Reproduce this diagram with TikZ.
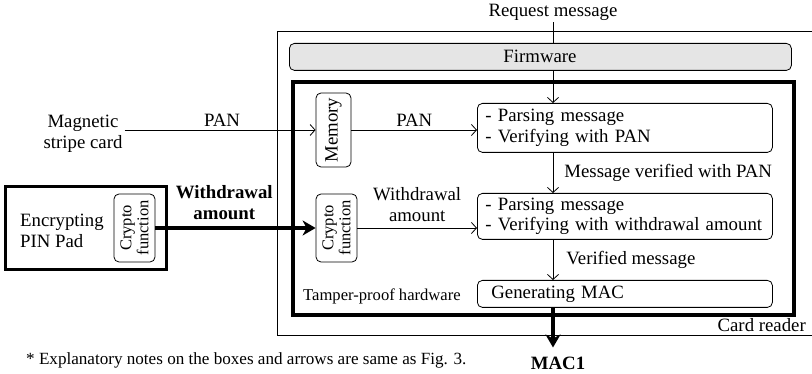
\documentclass[tikz,border=0pt]{standalone}
\usepackage{fontspec}
\setmainfont{Liberation Serif}
\usetikzlibrary{arrows.meta}
\begin{document}
\begin{tikzpicture}[x=1pt,y=-1pt,
  every node/.style={font=\fontsize{18.8}{20.5}\selectfont, inner sep=2pt},
  rbox/.style={draw, rounded corners=5pt, line width=0.8pt},
  stepbox/.style={rbox, anchor=north west, align=left, inner xsep=8pt, text width=279pt},
  crypto/.style={rbox, rotate=90, align=center, minimum width=68pt, minimum height=41pt,
                 inner sep=0pt, font=\fontsize{16.5}{16.8}\selectfont},
  flow/.style={line width=0.8pt, -{Straight Barb[length=5pt,width=11pt]}},
  bigflow/.style={line width=3.2pt, -{Stealth[length=13pt,width=15pt,inset=4pt]}},
  small/.style={font=\fontsize{17.1}{18}\selectfont}
]
\path[use as bounding box, clip] (0,0) rectangle (812,374);

% card reader housing (its right side runs past the edge)
\node[draw, line width=0.8pt, anchor=north west, minimum width=545pt,
      minimum height=304pt, inner sep=0pt] (cr) at (277,31) {};
\node[anchor=base east] (crl) at (808,331) {Card reader};

% firmware layer
\node[rbox, fill=gray!20, anchor=north west, minimum width=502pt,
      minimum height=27pt, inner sep=0pt] (fw) at (289,43) {};
\node (fwl) at (540,56.5) {Firmware};

% tamper-proof hardware
\node[draw, line width=3.5pt, anchor=north west, minimum width=501pt,
      minimum height=233pt, inner sep=0pt] (tp) at (291,80.5) {};
\node[small, font=\fontsize{16.6}{18}\selectfont, anchor=west] (tpl) at (301,296)
  {Tamper-proof hardware};

% processing steps
\node[stepbox, minimum height=49pt] (p1) at (477,103)
  {- Parsing message\\- Verifying with PAN};
\node[stepbox, minimum height=46pt] (p2) at (477,193)
  {- Parsing message\\- Verifying with withdrawal amount};
\node[stepbox, minimum height=27pt, inner xsep=14pt, text width=267pt] (gm) at (477,280)
  {Generating MAC};

% memory and crypto function blocks
\node[rbox, rotate=90, minimum width=74pt, minimum height=35pt, inner sep=0pt] (mem)
  at (333.5,130) {Memory};
\node[crypto] (ccr) at (336.5,228) {Crypto\\function};

% request message entering from the top
\node (req) at (553,12) {Request message};
\draw[line width=0.8pt] (req) -- (req |- fw.north);
\draw[flow] (fw.south -| req) -- (p1.north -| req);

\draw[flow] (p1.south -| req) -- (p2.north -| req)
  node[midway, anchor=west, xshift=9pt] {Message verified with PAN};
\draw[flow] (p2.south -| req) -- (gm.north -| req)
  node[midway, anchor=west, xshift=11pt] {Verified message};

% magnetic stripe card
\node[align=center] (msc) at (83,134) {Magnetic\\stripe card};
\draw[flow] (msc.east |- mem.center) -- (mem.north)
  node[pos=0.51, above=1pt] {PAN};
\draw[flow] (mem.south) -- (mem.south -| p1.west)
  node[midway, above=1pt] {PAN};

% encrypting PIN pad
\node[draw, line width=3pt, minimum width=161pt, minimum height=83pt, inner sep=0pt] (pad)
  at (85.5,228.5) {};
\node[align=left, anchor=west] (padl) at (18,231) {Encrypting\\PIN Pad};
\node[crypto] (pcr) at (134.5,228) {Crypto\\function};

\draw[bigflow] (pcr.south) -- (ccr.north)
  node[pos=0.43, above=5pt, align=center, font=\fontsize{18.8}{20.5}\selectfont\bfseries]
  {Withdrawal\\amount};
\draw[flow] (ccr.south) -- (ccr.south -| p2.west)
  node[midway, above=4pt, align=center] {Withdrawal\\amount};

% MAC output
\node[font=\fontsize{18.8}{20.5}\selectfont\bfseries] (mac) at (558,363) {MAC1};
\draw[bigflow, shorten >=7pt] (gm.south -| req) -- (mac.north -| req);

% footnote
\node[small, anchor=west] (note) at (24,360)
  {* Explanatory notes on the boxes and arrows are same as Fig. 3.};
\end{tikzpicture}
\end{document}
